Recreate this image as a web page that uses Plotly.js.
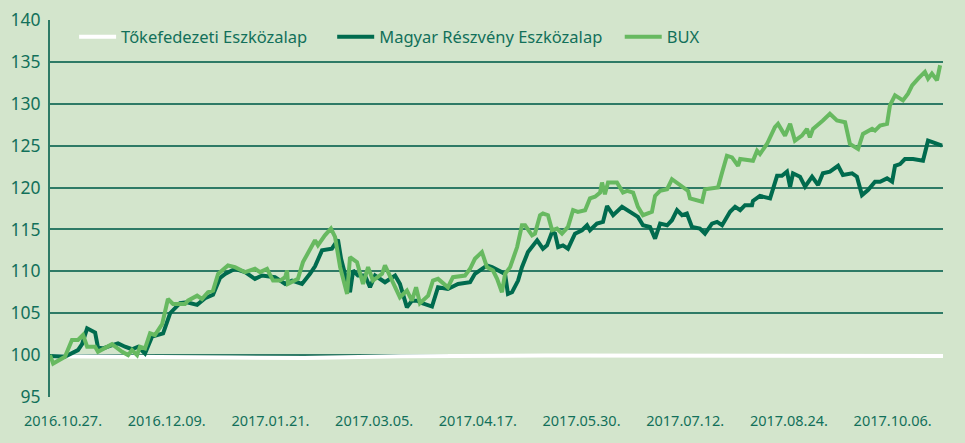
<!DOCTYPE html>
<html>
<head>
<meta charset="utf-8">
<script src="https://cdn.plot.ly/plotly-3.0.1.min.js"></script>
<style>html,body{margin:0;padding:0;background:#d3e5cc;}#chart{width:965px;height:443px;}</style>
</head>
<body>
<div id="chart"></div>
<script>
// x values: days since 2016.10.27.
const tickDays = [0, 43, 86, 129, 172, 215, 258, 301, 344];
const tickLabels = ['2016.10.27.', '2016.12.09.', '2017.01.21.', '2017.03.05.', '2017.04.17.', '2017.05.30.', '2017.07.12.', '2017.08.24.', '2017.10.06.'];

const tokeDays = [-5.4, 10, 40, 70, 100, 140, 200, 260, 300, 364.9];
const tokeValues = [99.85, 99.8, 99.75, 99.7, 99.65, 99.85, 99.95, 99.9, 99.95, 99.9];

const magyarDays = [-5.4, 0.8, 6.2, 7.9, 10.0, 13.3, 14.5, 16.6, 19.5, 22.8, 25.7, 28.6, 31.1, 34.0, 36.9, 41.5, 44.4, 48.5, 51.4, 55.6, 58.9, 62.2, 65.1, 67.2, 71.3, 75.5, 79.6, 82.5, 87.9, 92.1, 95.0, 99.1, 102.4, 104.5, 107.4, 111.5, 114.0, 115.3, 116.9, 119.0, 120.3, 122.3, 125.2, 127.3, 129.4, 133.5, 137.7, 139.7, 142.6, 144.7, 146.8, 148.9, 153.0, 155.5, 159.6, 163.8, 168.8, 170.8, 175.8, 177.9, 183.3, 184.5, 186.2, 188.7, 190.3, 192.8, 196.6, 199.0, 200.7, 202.8, 204.0, 205.3, 207.3, 209.4, 212.3, 215.2, 217.3, 218.5, 221.4, 223.9, 225.6, 228.1, 231.8, 233.9, 236.4, 238.4, 240.5, 243.4, 245.5, 247.6, 250.5, 252.5, 254.6, 256.7, 258.7, 260.8, 264.1, 266.2, 269.1, 271.2, 273.3, 276.6, 278.7, 280.8, 282.8, 285.7, 286.1, 289.0, 293.2, 296.1, 298.1, 300.2, 301.5, 302.7, 305.6, 307.7, 310.6, 313.1, 315.1, 318.0, 321.4, 323.4, 327.2, 329.2, 331.3, 333.8, 336.7, 338.8, 341.7, 343.8, 345.0, 347.1, 349.1, 352.5, 356.6, 358.7, 360.8, 364.5];
const magyarValues = [99.9, 99.8, 100.6, 101.3, 103.2, 102.7, 100.9, 100.8, 101.1, 101.4, 101.0, 100.7, 101.0, 100.2, 102.2, 102.6, 105.0, 106.2, 106.3, 106.0, 106.8, 107.2, 109.2, 109.7, 110.3, 109.9, 109.1, 109.5, 109.3, 108.5, 108.9, 108.5, 109.7, 110.6, 112.5, 112.7, 113.8, 111.5, 109.7, 107.5, 110.1, 109.5, 109.5, 108.1, 109.5, 108.7, 109.5, 108.5, 105.7, 106.5, 106.5, 106.2, 105.8, 108.1, 107.9, 108.5, 108.7, 109.7, 110.7, 110.5, 109.7, 107.3, 107.5, 108.9, 110.5, 112.3, 113.7, 112.7, 113.1, 114.7, 114.5, 112.9, 113.1, 112.7, 114.5, 114.9, 115.5, 114.9, 115.7, 115.9, 117.8, 116.7, 117.7, 117.3, 116.9, 116.5, 115.5, 115.3, 113.9, 115.7, 115.5, 116.1, 117.3, 116.7, 116.9, 115.3, 115.1, 114.5, 115.7, 115.9, 115.5, 117.1, 117.7, 117.3, 117.9, 117.9, 118.4, 119.0, 118.7, 121.4, 121.4, 121.9, 120.1, 121.7, 121.3, 120.1, 121.3, 120.3, 121.7, 121.9, 122.6, 121.5, 121.7, 121.3, 119.1, 119.7, 120.7, 120.7, 121.1, 120.7, 122.6, 122.8, 123.4, 123.4, 123.2, 125.6, 125.4, 125.0];

const buxDays = [-5.4, -4.1, 0.8, 3.7, 6.2, 8.3, 10.0, 13.3, 14.5, 20.3, 24.5, 27.0, 28.6, 30.7, 31.9, 34.0, 36.1, 38.1, 41.1, 43.5, 45.6, 50.6, 51.8, 55.6, 57.6, 60.1, 62.2, 64.3, 68.4, 71.3, 75.5, 79.6, 81.7, 84.6, 87.1, 90.0, 92.1, 92.9, 93.3, 97.4, 99.5, 102.4, 104.5, 105.7, 108.6, 111.1, 112.8, 114.9, 117.8, 119.0, 121.9, 124.4, 126.5, 128.5, 132.3, 133.5, 136.4, 139.7, 142.6, 144.7, 146.4, 148.0, 151.4, 153.4, 155.5, 159.6, 161.7, 166.7, 168.8, 170.8, 173.7, 175.8, 178.3, 180.0, 182.0, 183.3, 185.4, 188.3, 190.3, 191.6, 194.5, 195.7, 197.8, 199.0, 201.1, 202.8, 204.8, 206.9, 209.4, 211.5, 213.5, 216.5, 218.5, 220.6, 222.7, 223.5, 224.7, 226.0, 229.7, 232.2, 233.9, 236.4, 238.4, 240.5, 244.2, 245.5, 247.6, 250.5, 252.5, 254.6, 257.1, 259.2, 260.0, 262.9, 265.0, 266.2, 271.6, 273.3, 275.3, 277.4, 279.9, 280.8, 286.1, 287.8, 289.0, 291.9, 295.2, 296.5, 299.4, 301.5, 303.5, 306.4, 308.5, 309.7, 311.0, 315.1, 318.0, 320.9, 324.3, 326.3, 329.7, 331.7, 335.5, 336.7, 338.8, 341.7, 342.9, 345.0, 348.3, 350.4, 352.1, 354.6, 357.4, 358.7, 360.3, 362.4, 363.7];
const buxValues = [100.0, 99.0, 99.8, 101.8, 101.8, 102.4, 101.0, 101.0, 100.4, 101.3, 100.4, 100.0, 100.6, 100.0, 101.0, 100.8, 102.6, 102.4, 103.7, 106.7, 106.1, 106.1, 106.5, 107.1, 106.7, 107.5, 107.7, 109.7, 110.7, 110.5, 109.9, 110.3, 109.9, 110.3, 108.9, 108.9, 109.3, 110.1, 108.5, 109.1, 111.1, 112.5, 113.7, 113.1, 114.3, 115.1, 114.1, 110.5, 107.3, 111.7, 111.1, 108.5, 110.5, 108.9, 109.7, 110.7, 108.9, 106.9, 107.7, 106.5, 108.1, 106.2, 107.1, 108.9, 109.1, 108.1, 109.3, 109.5, 110.3, 111.5, 112.3, 110.5, 110.1, 109.1, 107.5, 109.7, 110.5, 112.9, 115.5, 115.5, 114.3, 114.5, 116.7, 116.9, 116.7, 114.9, 115.1, 114.5, 115.3, 117.3, 117.1, 117.3, 118.7, 118.9, 119.4, 120.6, 119.2, 120.6, 120.6, 119.4, 119.6, 119.4, 117.7, 116.7, 117.1, 119.0, 119.6, 119.8, 121.0, 120.6, 120.0, 119.6, 118.7, 118.5, 118.3, 119.8, 120.0, 121.8, 123.8, 123.6, 122.6, 123.4, 123.2, 124.4, 124.0, 125.2, 127.2, 127.6, 126.2, 127.6, 125.6, 126.2, 127.0, 126.0, 127.0, 128.0, 128.8, 128.0, 127.8, 125.2, 124.6, 126.4, 127.0, 126.8, 127.4, 127.6, 129.8, 131.0, 130.4, 131.2, 132.2, 133.0, 133.8, 133.0, 133.6, 132.8, 134.6];

const seriesNames = ['Tőkefedezeti Eszközalap', 'Magyar Részvény Eszközalap', 'BUX'];

const bg = '#d3e5cc';
const txt = '#12705a';
const grid = '#2e7a66';
const font = 'Noto Sans, Open Sans, sans-serif';

const traces = [
  {x: tokeDays, y: tokeValues, name: seriesNames[0], mode: 'lines', line: {color: '#ffffff', width: 4}, legend: 'legend'},
  {x: magyarDays, y: magyarValues, name: seriesNames[1], mode: 'lines', line: {color: '#006b4e', width: 4}, legend: 'legend2'},
  {x: buxDays, y: buxValues, name: seriesNames[2], mode: 'lines', line: {color: '#67b960', width: 4}, legend: 'legend3'}
];

function leg(xp) {
  return {x: xp, xanchor: 'left', y: 0.955, yanchor: 'middle', orientation: 'h', bgcolor: 'rgba(0,0,0,0)',
          font: {family: font, size: 16.5, color: txt}, itemwidth: 37};
}

const layout = {
  width: 965, height: 443,
  paper_bgcolor: bg, plot_bgcolor: bg,
  margin: {l: 50, r: 22, t: 20, b: 46},
  showlegend: true,
  legend: leg(0.027),
  legend2: leg(0.316),
  legend3: leg(0.638),
  xaxis: {
    range: [-5.4, 364.9], tickvals: tickDays, ticktext: tickLabels,
    showgrid: false, zeroline: false, showline: false, ticks: '',
    tickfont: {family: font, size: 14.5, color: txt}, ticklabelstandoff: 13, fixedrange: true
  },
  yaxis: {
    range: [95, 140], dtick: 5, tick0: 95,
    showgrid: true, gridcolor: grid, gridwidth: 2, zeroline: false,
    showline: true, linecolor: grid, linewidth: 2, ticks: '',
    tickfont: {family: font, size: 17.5, color: txt}, ticklabelstandoff: 4, fixedrange: true
  }
};

Plotly.newPlot('chart', traces, layout, {displayModeBar: false, staticPlot: true});
</script>
</body>
</html>
